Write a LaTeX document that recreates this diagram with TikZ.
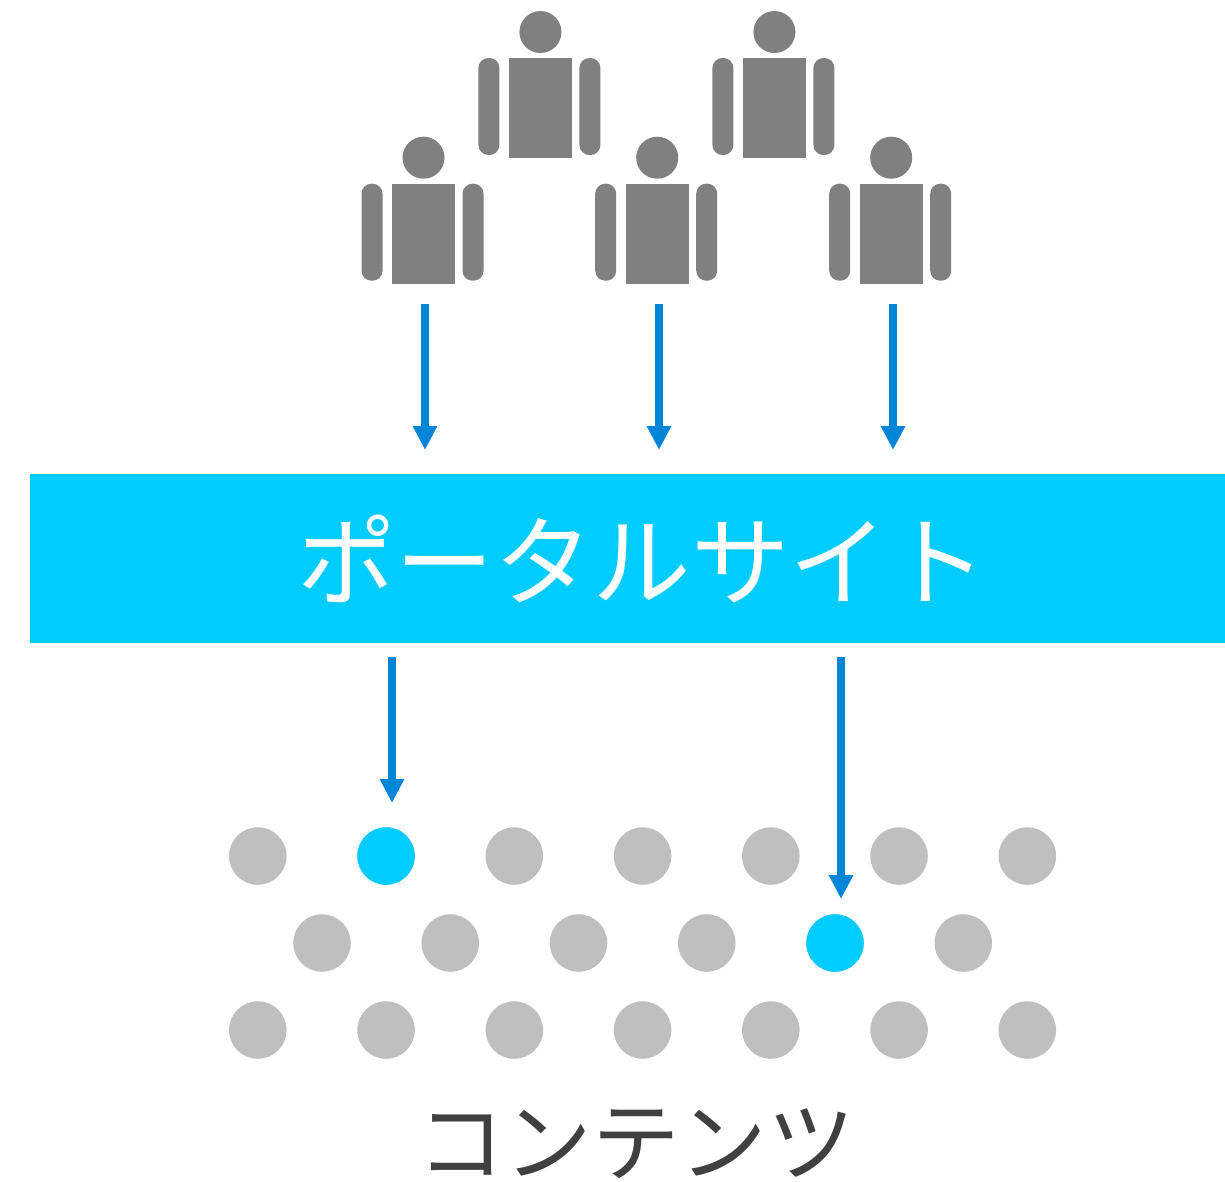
\documentclass[tikz,border=0pt]{standalone}
\usepackage{fontspec}
\setmainfont{Noto Sans CJK JP}[Scale=1]
\usetikzlibrary{arrows.meta}
\definecolor{figure}{HTML}{808080}
\definecolor{portal}{HTML}{00CCFF}
\definecolor{flow}{HTML}{0085D9}
\definecolor{item}{HTML}{BFBFBF}
\definecolor{caption}{HTML}{404040}
\begin{document}
\begin{tikzpicture}[
    x=0.01cm, y=-0.01cm,
    head/.style={circle, fill=figure, minimum size=0.42cm, inner sep=0pt},
    torso/.style={fill=figure, minimum width=0.63cm, minimum height=1cm, inner sep=0pt},
    limb/.style={fill=figure, rounded corners=0.1cm, minimum width=0.21cm, minimum height=0.97cm, inner sep=0pt},
    page/.style={circle, fill=item, minimum size=0.575cm, inner sep=0pt},
    hit/.style={page, fill=portal},
    link/.style={draw=flow, line width=0.08cm, -{Triangle[width=0.23cm,length=0.24cm]}},
    ]
    \useasboundingbox (0,0) rectangle (1225,1181);

    % people
    \foreach \name/\px/\py in {p1/540.4/0, p2/774.4/0, p3/423.5/125.7, p4/657.2/125.7, p5/891.2/125.7} {
        \node[head] (\name h) at (\px,32+\py) {};
        \node[torso] (\name t) at (\px,108+\py) {};
        \node[limb] (\name l) at (\px-51.5,106.5+\py) {};
        \node[limb] (\name r) at (\px+49.5,106.5+\py) {};
    }

    % banner
    \node[fill=portal, minimum width=11.95cm, minimum height=1.69cm, inner sep=0pt] (site) at (627.5,558.5) {};
    \node[text=white, font=\fontsize{28pt}{28pt}\selectfont] (sitename) at (642,558.5) {ポータルサイト};

    % contents
    \foreach \i in {0,...,6} {
        \node[page] (a\i) at (257.8+128.25*\i,856) {};
        \node[page] (c\i) at (257.8+128.25*\i,1030) {};
    }
    \foreach \i in {0,...,5} {
        \node[page] (b\i) at (322+128.25*\i,943) {};
    }
    \node[hit] at (a1) {};
    \node[hit] at (b4) {};
    \node[text=caption, font=\fontsize{24.9pt}{24.9pt}\selectfont] (contents) at (636,1144) {コンテンツ};

    % arrows
    \foreach \name/\px in {u1/425, u2/659, u3/893} {
        \coordinate (\name s) at (\px,304);
        \coordinate (\name e) at (\px,450);
        \draw[link] (\name s) -- (\name e);
    }
    \coordinate (d1s) at (392,657);
    \coordinate (d1e) at (392,803);
    \coordinate (d2s) at (841,657);
    \coordinate (d2e) at (841,899);
    \draw[link] (d1s) -- (d1e);
    \draw[link] (d2s) -- (d2e);
\end{tikzpicture}
\end{document}
